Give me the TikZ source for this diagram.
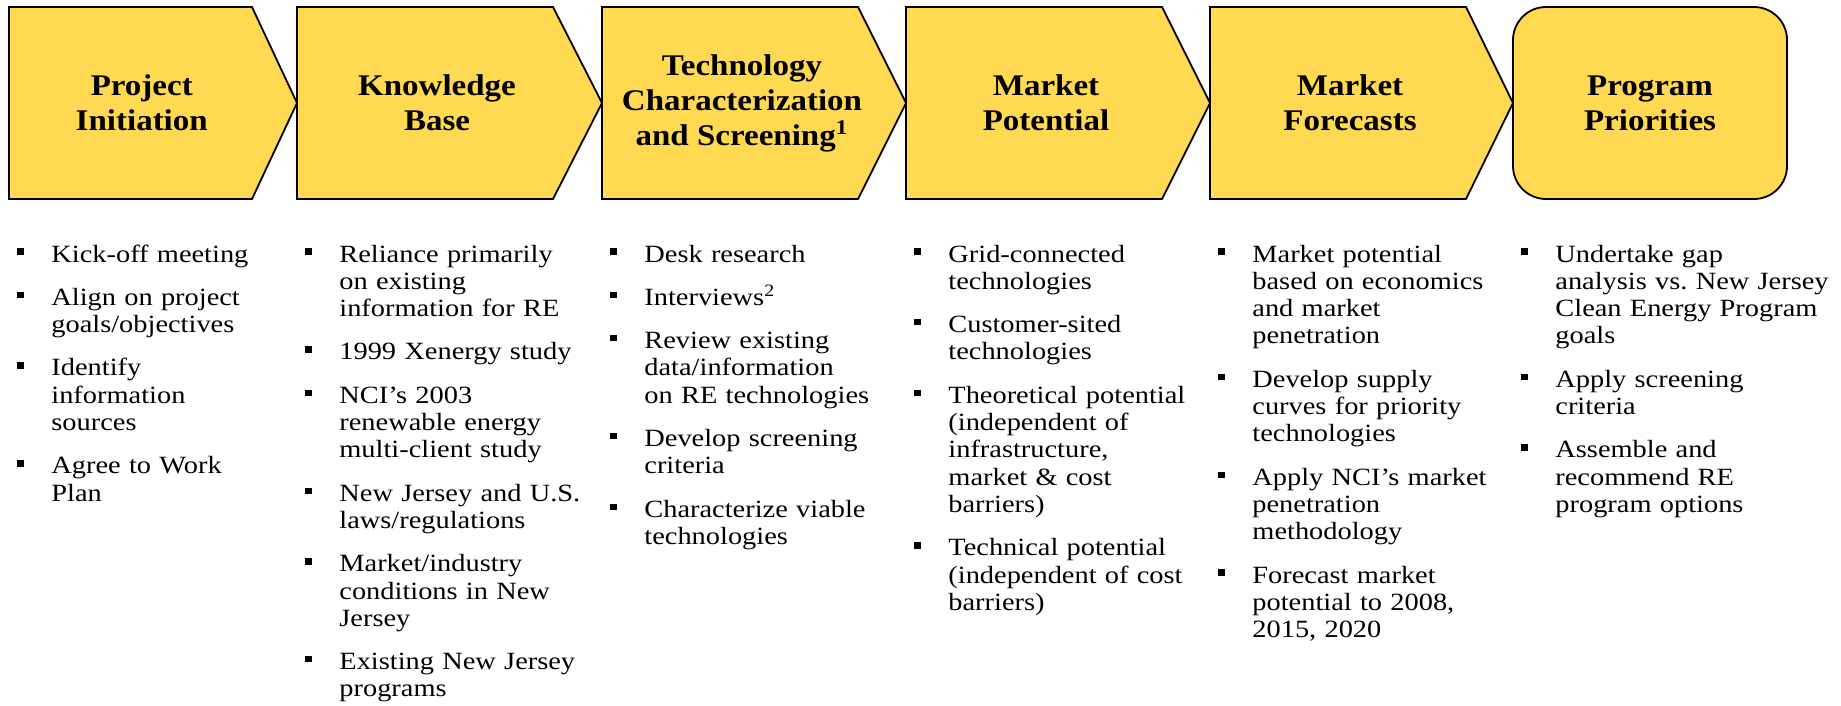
\documentclass[tikz,border=0pt]{standalone}
\usepackage{fontspec}
\setmainfont{Liberation Serif}[FakeStretch=1.1]
\newfontfamily\bodyfont{Liberation Serif}[FakeStretch=1.145]
\definecolor{chev}{RGB}{255,217,82}
\tikzset{
 chevbox/.style={draw=black, fill=chev, line width=0.9pt, line join=miter},
 head/.style={align=center, font=\fontsize{15pt}{17.5pt}\selectfont\bfseries, inner sep=0pt},
 col/.style={anchor=base west, text width=185pt, align=left, inner sep=0pt, font=\bodyfont\fontsize{12.4pt}{13.65pt}\selectfont},
}
\newcommand\bfirst[1]{\noindent\hangindent=17pt\hangafter=1 \makebox[17pt][l]{\raisebox{3.6pt}{\rule{3.2pt}{3.2pt}}}#1\par}
\newcommand\bitem[1]{\vspace{8pt}\bfirst{#1}}
\frenchspacing
\begin{document}
\begin{tikzpicture}[x=0.5pt,y=-0.5pt]
\useasboundingbox (0,0) rectangle (1841,706);
\draw[chevbox] (9,7) -- (252,7) -- (297,103) -- (252,199) -- (9,199) -- cycle;
\draw[chevbox] (297,7) -- (553,7) -- (602,103) -- (553,199) -- (297,199) -- cycle;
\draw[chevbox] (602,7) -- (858,7) -- (906,103) -- (858,199) -- (602,199) -- cycle;
\draw[chevbox] (906,7) -- (1162,7) -- (1210,103) -- (1162,199) -- (906,199) -- cycle;
\draw[chevbox] (1210,7) -- (1466,7) -- (1513,103) -- (1466,199) -- (1210,199) -- cycle;
\draw[chevbox, rounded corners=16.5pt] (1513,7) rectangle (1787,199);

\node[head] (h1) at (141.75,103) {Project\\Initiation};
\node[head] (h2) at (437,103) {Knowledge\\Base};
\node[head] (h3) at (742,103) {Technology\\Characterization\\and Screening\textsuperscript{1}};
\node[head] (h4) at (1046,103) {Market\\Potential};
\node[head] (h5) at (1350,103) {Market\\Forecasts};
\node[head] (h6) at (1650,103) {Program\\Priorities};

\node[col] (c1) at (17,262) {\bfirst{Kick-off meeting}%
\bitem{Align on project\newline goals/objectives}%
\bitem{Identify\newline information\newline sources}%
\bitem{Agree to Work\newline Plan}};

\node[col] (c2) at (305,262) {\bfirst{Reliance primarily\newline on existing\newline information for RE}%
\bitem{1999 Xenergy study}%
\bitem{NCI’s 2003\newline renewable energy\newline multi-client study}%
\bitem{New Jersey and U.S.\newline laws/regulations}%
\bitem{Market/industry\newline conditions in New\newline Jersey}%
\bitem{Existing New Jersey\newline programs}};

\node[col] (c3) at (610,262) {\bfirst{Desk research}%
\bitem{Interviews\textsuperscript{2}}%
\bitem{Review existing\newline data/information\newline on RE technologies}%
\bitem{Develop screening\newline criteria}%
\bitem{Characterize viable\newline technologies}};

\node[col] (c4) at (914,262) {\bfirst{Grid-connected\newline technologies}%
\bitem{Customer-sited\newline technologies}%
\bitem{Theoretical potential\newline (independent of\newline infrastructure,\newline market \& cost\newline barriers)}%
\bitem{Technical potential\newline (independent of cost\newline barriers)}};

\node[col] (c5) at (1218,262) {\bfirst{Market potential\newline based on economics\newline and market\newline penetration}%
\bitem{Develop supply\newline curves for priority\newline technologies}%
\bitem{Apply NCI’s market\newline penetration\newline methodology}%
\bitem{Forecast market\newline potential to 2008,\newline 2015, 2020}};

\node[col] (c6) at (1521,262) {\bfirst{Undertake gap\newline analysis vs. New Jersey\newline Clean Energy Program\newline goals}%
\bitem{Apply screening\newline criteria}%
\bitem{Assemble and\newline recommend RE\newline program options}};
\end{tikzpicture}
\end{document}
